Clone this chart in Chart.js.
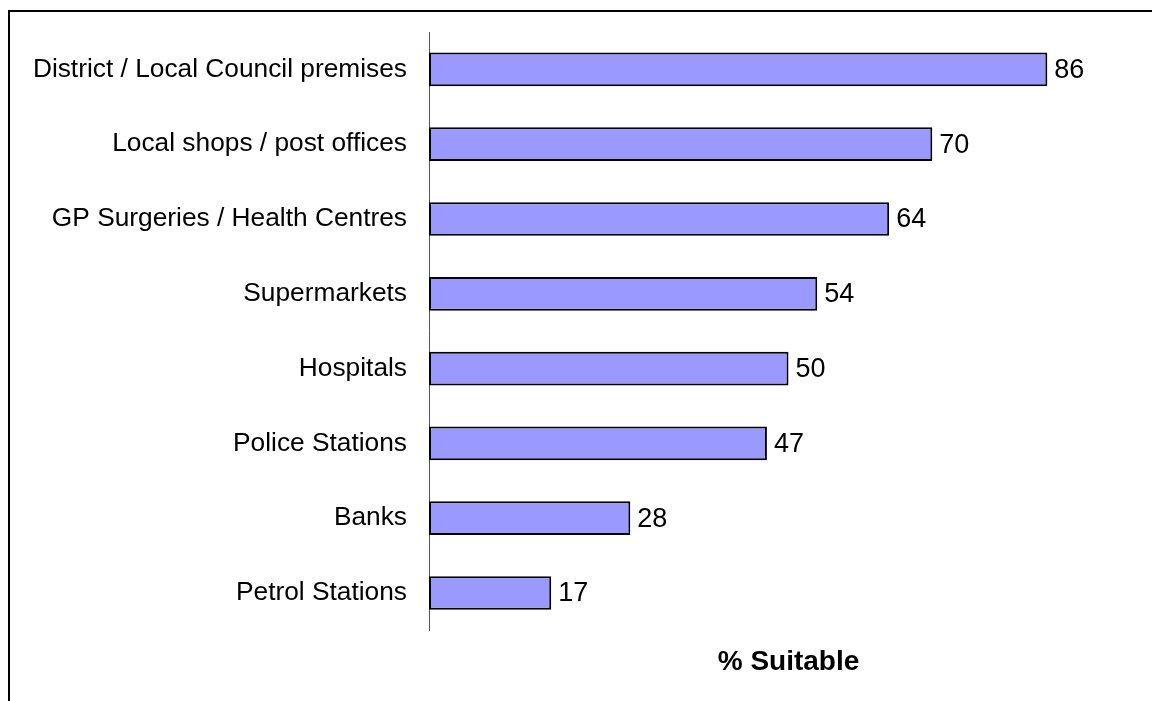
<!DOCTYPE html>
<html>
<head>
<meta charset="utf-8">
<title>% Suitable</title>
<script src="https://cdn.jsdelivr.net/npm/chart.js@4/dist/chart.umd.min.js"></script>
<style>
  html, body { margin: 0; padding: 0; background: #fff; }
  #wrap { position: relative; width: 1152px; height: 701px; overflow: hidden; }
  #frame {
    position: absolute; left: 8px; top: 10px; width: 1200px; height: 760px;
    border-left: 2px solid #000; border-top: 2px solid #000;
  }
  #chart { position: absolute; left: 0; top: 0; }
</style>
</head>
<body>
<div id="wrap">
  <div id="frame"></div>
  <canvas id="chart" width="1152" height="701"></canvas>
</div>
<script>
// categories and percentages, top to bottom
const places = [
  'District / Local Council premises',
  'Local shops / post offices',
  'GP Surgeries / Health Centres',
  'Supermarkets',
  'Hospitals',
  'Police Stations',
  'Banks',
  'Petrol Stations'
];
const suitable = [86, 70, 64, 54, 50, 47, 28, 17];

const FONT = "'Liberation Sans', Arial, sans-serif";

// writes each bar's value just past its end
const valueLabels = {
  id: 'valueLabels',
  afterDatasetsDraw(chart) {
    const ctx = chart.ctx;
    const meta = chart.getDatasetMeta(0);
    const data = chart.data.datasets[0].data;
    ctx.save();
    ctx.font = '27px ' + FONT;
    ctx.fillStyle = '#000';
    ctx.textAlign = 'left';
    ctx.textBaseline = 'middle';
    meta.data.forEach((bar, i) => {
      ctx.fillText(String(data[i]), bar.x + 7, bar.y + 1);
    });
    ctx.restore();
  }
};

new Chart(document.getElementById('chart'), {
  type: 'bar',
  data: {
    labels: places,
    datasets: [{
      data: suitable,
      backgroundColor: '#9999ff',
      borderColor: '#000',
      borderWidth: 2,
      borderSkipped: false,
      barPercentage: 0.45,
      categoryPercentage: 1
    }]
  },
  options: {
    indexAxis: 'y',
    responsive: false,
    animation: false,
    layout: { padding: { top: 32, right: 4, bottom: 22, left: 0 } },
    plugins: { legend: { display: false }, tooltip: { enabled: false } },
    scales: {
      x: {
        min: 0,
        max: 100,
        grid: { display: false, drawTicks: false },
        border: { display: false },
        ticks: { display: false },
        title: {
          display: true,
          text: '% Suitable',
          color: '#000',
          font: { family: FONT, size: 28, weight: 'bold' },
          padding: { top: 15, bottom: 0 }
        }
      },
      y: {
        grid: { display: false, drawTicks: false },
        border: { display: true, color: '#555', width: 1 },
        ticks: {
          color: '#000',
          padding: 22,
          font: { family: FONT, size: 26.3 }
        },
        // fixed label column; the labels sit inside their bands, so no extra edge room
        afterFit(scale) {
          scale.width = 429;
          scale.paddingTop = 0;
          scale.paddingBottom = 0;
        }
      }
    }
  },
  plugins: [valueLabels]
});
</script>
</body>
</html>
